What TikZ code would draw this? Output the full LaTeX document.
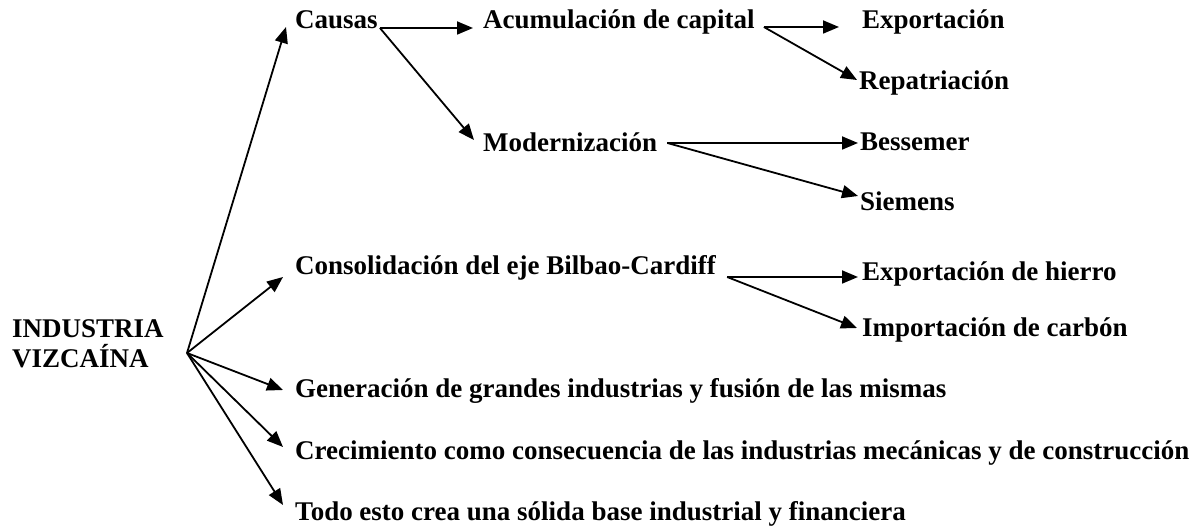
\documentclass[tikz,border=0pt]{standalone}
\usepackage{fontspec}
\setmainfont{Liberation Serif}
\usetikzlibrary{arrows.meta}

\begin{document}
\begin{tikzpicture}[x=1pt,y=-1pt,
					txt/.style={anchor=base west, inner sep=0pt, font=\fontsize{27}{30}\selectfont\bfseries},
					flecha/.style={line width=1.8pt, -{Triangle[length=16pt,width=13pt]}}]
    \useasboundingbox (0,0) rectangle (1191,529);
    % Place nodes
    \node [txt] (ind) at (12,337) {INDUSTRIA};
    \node [txt] (viz) at (12,367) {VIZCAÍNA};
    \coordinate (hub) at (187,353);
    \node [txt] (causas) at (295,29) {Causas};
    \node [txt] (acum) at (483,29) {Acumulación de capital};
    \node [txt] (expo) at (862,29) {Exportación};
    \node [txt] (repa) at (859,90) {Repatriación};
    \node [txt] (moder) at (483,152) {Modernización};
    \node [txt] (bess) at (860,151) {Bessemer};
    \node [txt] (siem) at (860,211) {Siemens};
    \node [txt] (conso) at (295,275) {Consolidación del eje Bilbao-Cardiff};
    \node [txt] (hierro) at (862,280) {Exportación de hierro};
    \node [txt] (carbon) at (862,336) {Importación de carbón};
    \node [txt] (gener) at (295,397) {Generación de grandes industrias y fusión de las mismas};
    \node [txt] (crec) at (295,459) {Crecimiento como consecuencia de las industrias mecánicas y de construcción};
    \node [txt] (todo) at (295,520) {Todo esto crea una sólida base industrial y financiera};
    % Draw edges
    \draw[flecha] (hub) -- ([xshift=-9pt,yshift=2pt]causas.base west);
    \draw[flecha] (hub) -- ([xshift=-12pt,yshift=-2pt]conso.base west);
    \draw[flecha] (hub) -- ([xshift=-12pt,yshift=7pt]gener.base west);
    \draw[flecha] (hub) -- ([xshift=-12pt,yshift=12pt]crec.base west);
    \draw[flecha] (hub) -- ([xshift=-12pt,yshift=15pt]todo.base west);
    \draw[flecha] ([xshift=2pt,yshift=1pt]causas.base east) -- ([xshift=-10pt,yshift=1pt]acum.base west);
    \draw[flecha] ([xshift=2pt,yshift=1pt]causas.base east) -- ([xshift=-9pt,yshift=12pt]moder.base west);
    \draw[flecha] ([xshift=9pt,yshift=2pt]acum.base east) -- ([xshift=-23pt,yshift=2pt]expo.base west);
    \draw[flecha] ([xshift=9pt,yshift=2pt]acum.base east) -- ([xshift=-2pt,yshift=10pt]repa.base west);
    \draw[flecha] ([xshift=10pt,yshift=9pt]moder.base east) -- ([xshift=-2pt,yshift=8pt]bess.base west);
    \draw[flecha] ([xshift=10pt,yshift=9pt]moder.base east) -- ([xshift=-2pt,yshift=15pt]siem.base west);
    \draw[flecha] ([xshift=11pt,yshift=-2pt]conso.base east) -- ([xshift=-4pt,yshift=3pt]hierro.base west);
    \draw[flecha] ([xshift=11pt,yshift=-2pt]conso.base east) -- ([xshift=-5pt,yshift=8pt]carbon.base west);
\end{tikzpicture}
\end{document}
